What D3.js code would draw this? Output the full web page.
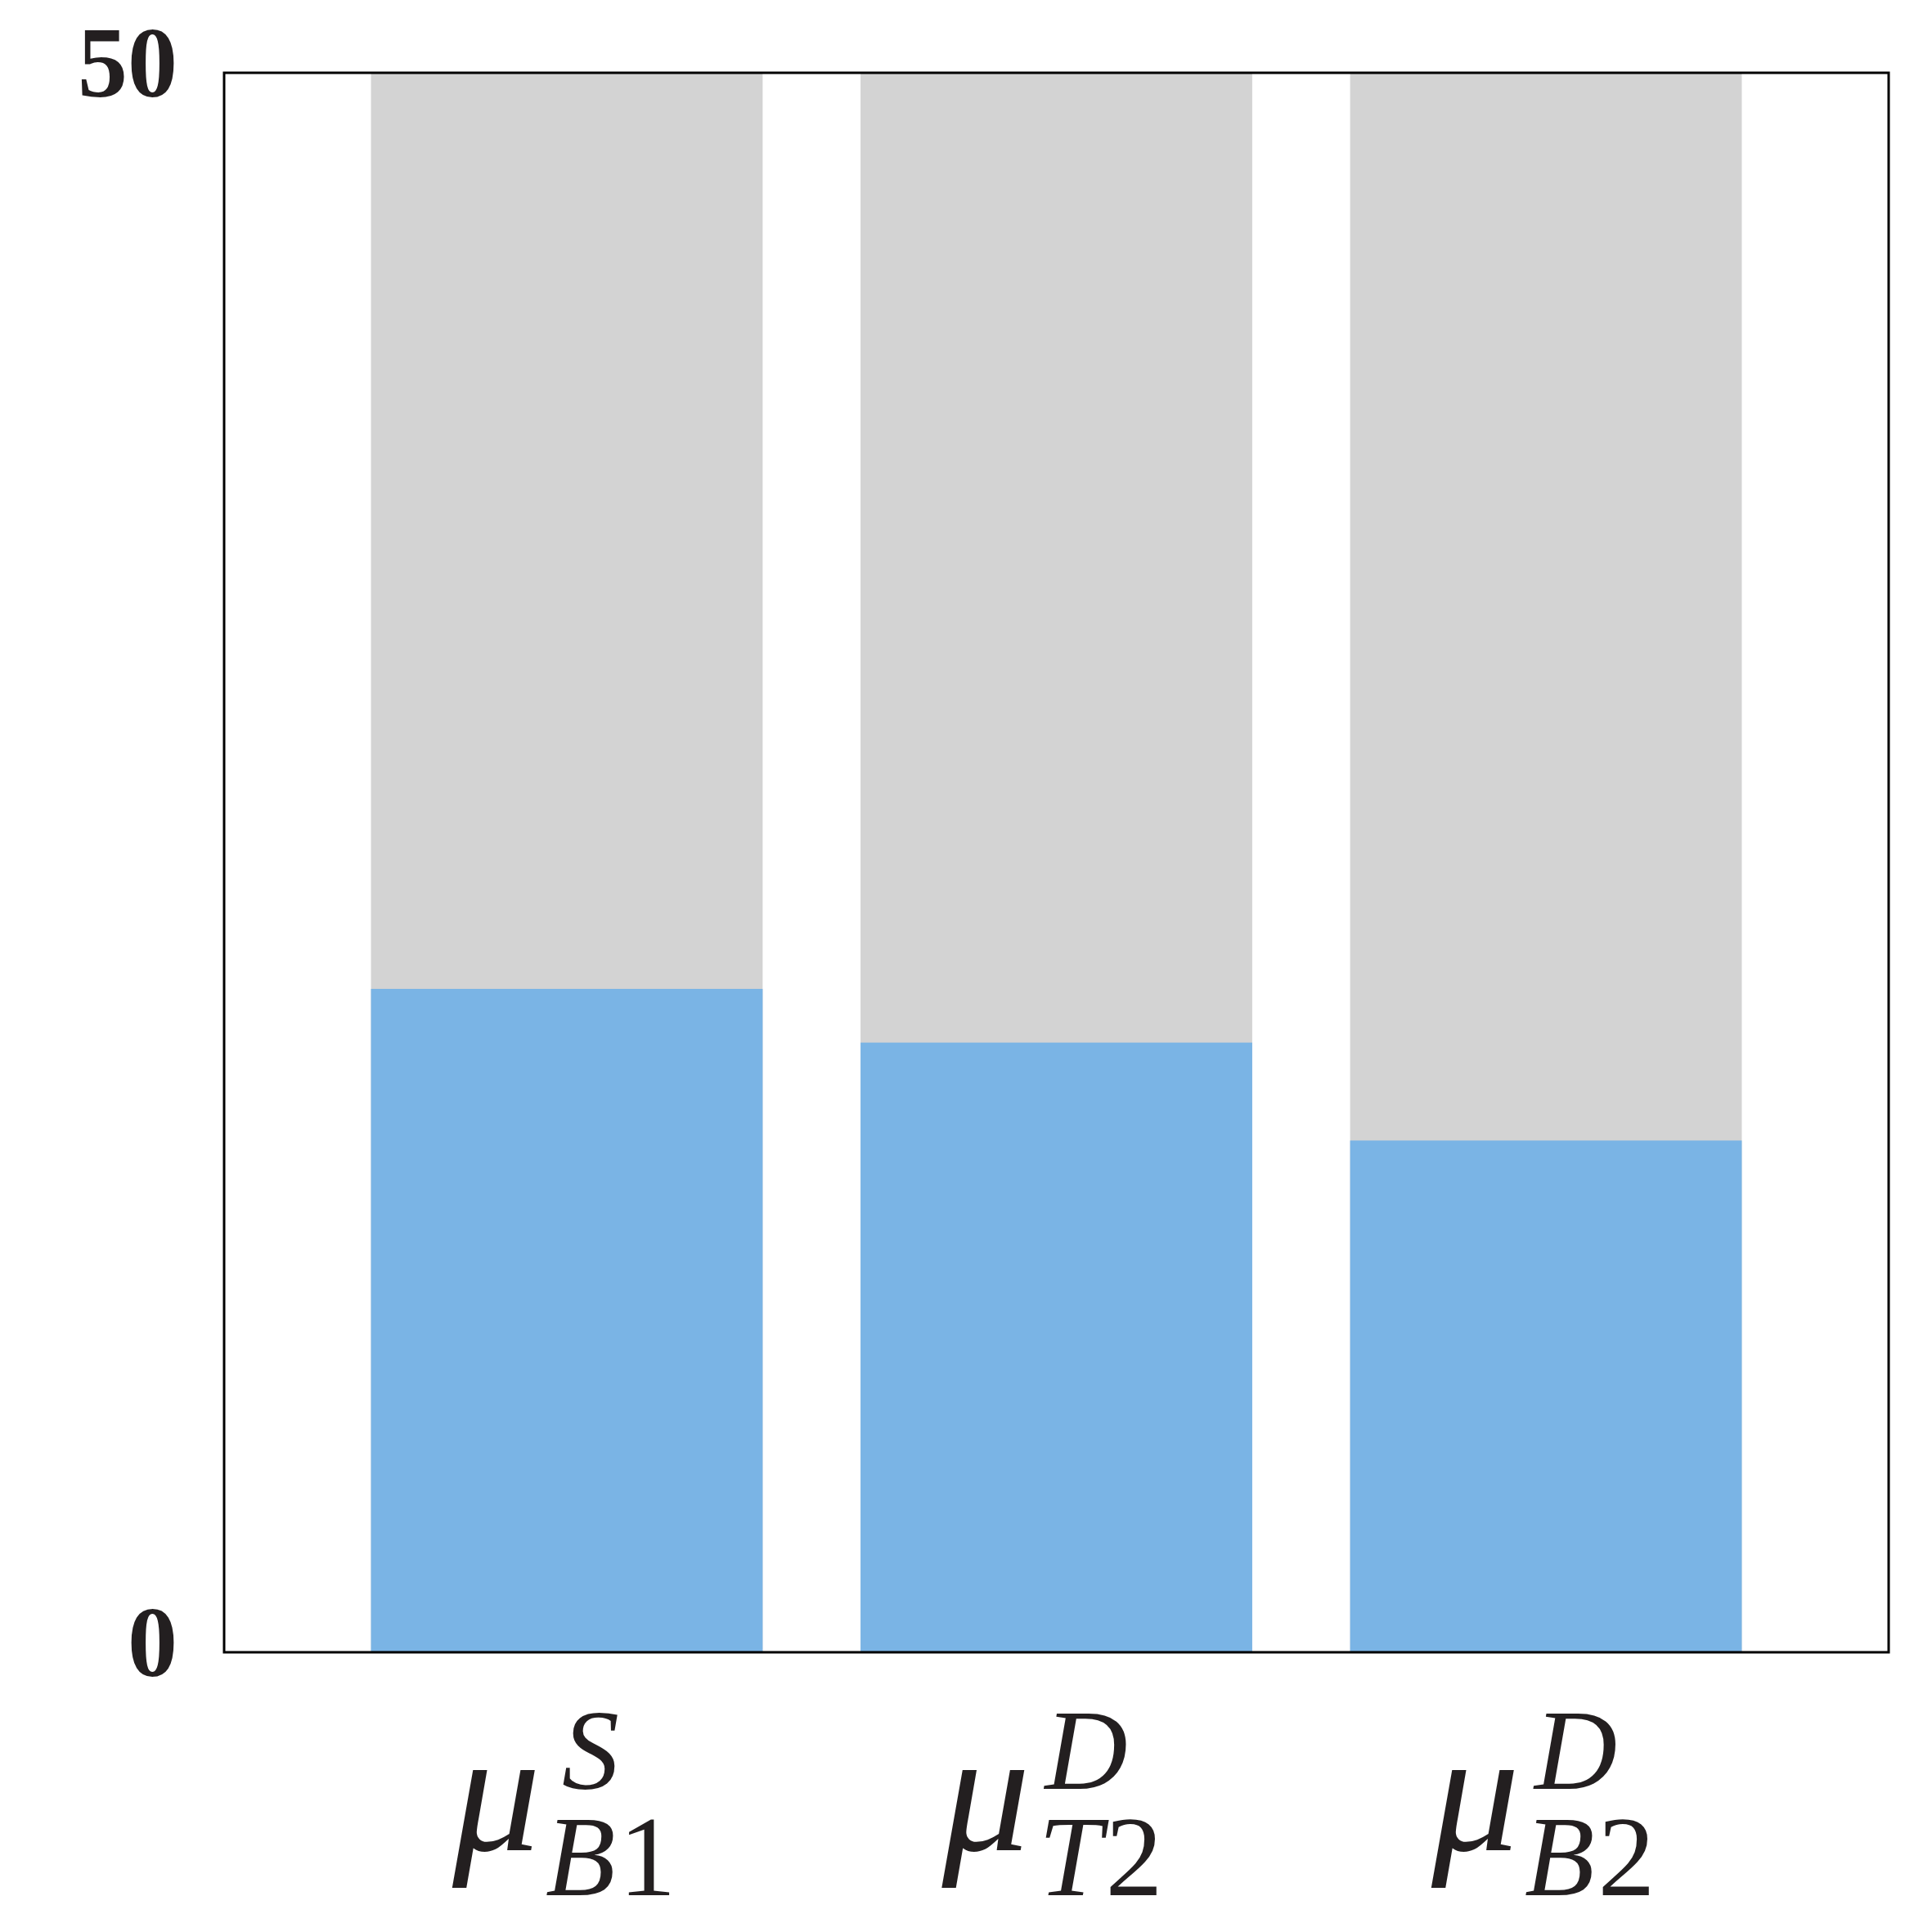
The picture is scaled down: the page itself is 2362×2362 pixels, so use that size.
<!DOCTYPE html>
<html>
<head>
<meta charset="utf-8">
<script src="https://cdn.jsdelivr.net/npm/d3@7"></script>
<style>
  body { margin: 0; background: #fff; }
  text { font-family: "Times New Roman", "Liberation Serif", Times, serif; fill: #231f20; }
</style>
</head>
<body>
<div id="chart"></div>
<script>
// data
var categories = ["muSB1", "muDT2", "muDB2"];
var supLetters = ["S", "D", "D"];
var subLetters = ["B", "T", "B"];
var subDigits = ["1", "2", "2"];
var blueValues = [21, 19.3, 16.2];
var totalValues = [50, 50, 50];
var yTicks = [0, 50];

var w = 2362, h = 2362;
var margin = { top: 89, right: 53, bottom: 342, left: 274 };
var width = w - margin.left - margin.right;
var height = h - margin.top - margin.bottom;

var svg = d3.select("#chart")
  .append("svg")
  .attr("width", w)
  .attr("height", h)
  .append("g")
  .attr("transform", "translate(" + margin.left + "," + margin.top + ")");

var x = d3.scaleBand()
  .domain(categories)
  .range([0, width])
  .paddingInner(0.2)
  .paddingOuter(0.3);

var y = d3.scaleLinear()
  .domain([0, 50])
  .range([height, 0]);

// grey totals
svg.selectAll(".total")
  .data(totalValues)
  .enter()
  .append("rect")
  .attr("class", "total")
  .attr("x", function(d, i){ return x(categories[i]); })
  .attr("y", function(d){ return y(d); })
  .attr("width", x.bandwidth())
  .attr("height", function(d){ return height - y(d); })
  .style("fill", "#d3d3d3");

// blue part
svg.selectAll(".part")
  .data(blueValues)
  .enter()
  .append("rect")
  .attr("class", "part")
  .attr("x", function(d, i){ return x(categories[i]); })
  .attr("y", function(d){ return y(d); })
  .attr("width", x.bandwidth())
  .attr("height", function(d){ return height - y(d); })
  .style("fill", "#7ab4e5");

// frame
svg.append("rect")
  .attr("x", 0)
  .attr("y", 0)
  .attr("width", width)
  .attr("height", height)
  .style("fill", "none")
  .style("stroke", "#000")
  .style("stroke-width", 3);

// y axis, only 0 and 50
var yAxis = svg.append("g")
  .call(d3.axisLeft(y).tickValues(yTicks).tickSize(0).tickPadding(57));
yAxis.select(".domain").remove();
yAxis.selectAll("text")
  .attr("dy", 28)
  .style("font-family", "'Times New Roman', 'Liberation Serif', serif")
  .style("font-weight", "bold")
  .style("font-size", "122px")
  .style("fill", "#231f20");

// x labels: mu with super and subscript
var labels = svg.selectAll(".xlabel")
  .data(categories)
  .enter()
  .append("g")
  .attr("class", "xlabel")
  .attr("transform", function(d){
    return "translate(" + (x(d) + x.bandwidth() / 2) + "," + height + ")";
  });

labels.append("text")
  .attr("x", -140)
  .attr("y", 242)
  .style("font-style", "italic")
  .style("font-size", "215px")
  .text("\u03bc");

labels.append("text")
  .attr("x", function(d, i){ return i == 0 ? -6 : -14; })
  .attr("y", 167)
  .style("font-style", "italic")
  .style("font-size", "140px")
  .text(function(d, i){ return supLetters[i]; });

var sub = labels.append("text")
  .attr("x", function(d, i){ return i == 1 ? -22 : -26; })
  .attr("y", 297)
  .style("font-size", "140px");
sub.append("tspan")
  .style("font-style", "italic")
  .text(function(d, i){ return subLetters[i]; });
sub.append("tspan")
  .attr("dx", 4)
  .text(function(d, i){ return subDigits[i]; });
</script>
</body>
</html>
